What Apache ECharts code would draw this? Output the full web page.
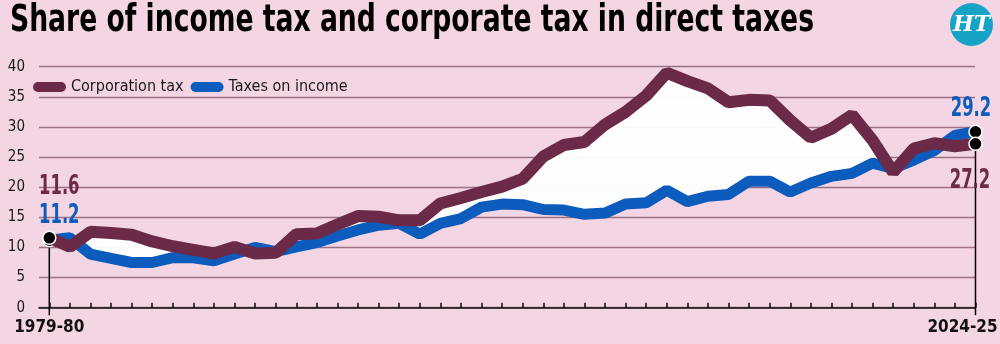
<!DOCTYPE html>
<html>
<head>
<meta charset="utf-8">
<script src="https://cdn.jsdelivr.net/npm/echarts@6/dist/echarts.min.js"></script>
<style>
  html, body { margin: 0; padding: 0; background: #f3d5e3; }
  #chart { width: 1000px; height: 344px; }
</style>
</head>
<body>
<div id="chart"></div>
<script>
// 年份（财年）
const years = [
  '1979-80', '1980-81', '1981-82', '1982-83', '1983-84', '1984-85', '1985-86', '1986-87',
  '1987-88', '1988-89', '1989-90', '1990-91', '1991-92', '1992-93', '1993-94', '1994-95',
  '1995-96', '1996-97', '1997-98', '1998-99', '1999-00', '2000-01', '2001-02', '2002-03',
  '2003-04', '2004-05', '2005-06', '2006-07', '2007-08', '2008-09', '2009-10', '2010-11',
  '2011-12', '2012-13', '2013-14', '2014-15', '2015-16', '2016-17', '2017-18', '2018-19',
  '2019-20', '2020-21', '2021-22', '2022-23', '2023-24', '2024-25'
];

// 公司税占直接税比重 (%)
const corporationTax = [
  11.6, 10.1, 12.6, 12.4, 12.1, 11.0, 10.2, 9.6, 9.0, 10.1, 9.0, 9.1, 12.2, 12.3, 13.8, 15.2,
  15.1, 14.5, 14.5, 17.3, 18.2, 19.2, 20.1, 21.4, 25.1, 27.0, 27.5, 30.4, 32.5, 35.2, 39.0, 37.6,
  36.4, 34.1, 34.5, 34.4, 31.1, 28.2, 29.7, 32.0, 27.8, 22.5, 26.4, 27.3, 26.8, 27.2
];

// 所得税占直接税比重 (%)
const taxesOnIncome = [
  11.2, 11.6, 8.9, 8.2, 7.5, 7.5, 8.3, 8.3, 7.8, 8.9, 10.0, 9.3, 10.1, 10.8, 11.9, 12.9,
  13.7, 14.0, 12.2, 14.0, 14.8, 16.7, 17.2, 17.1, 16.3, 16.2, 15.5, 15.7, 17.2, 17.4, 19.5, 17.6,
  18.5, 18.8, 21.0, 21.0, 19.2, 20.7, 21.8, 22.3, 24.0, 23.1, 24.5, 26.1, 28.6, 29.2
];

const yTicks = { min: 0, max: 40, interval: 5 };
const titleText = 'Share of income tax and corporate tax in direct taxes';

const MAROON = '#6a2a48';
const BLUE = '#0b5cbd';
const FONT = "'DejaVu Sans Condensed', 'DejaVu Sans', sans-serif";
const LAST = years.length - 1;

const myChart = echarts.init(document.getElementById('chart'));

// 两条线之间的白色填充：底部 = 较小值，高度 = 公司税高出的部分
const fillBase = corporationTax.map((c, i) => Math.min(c, taxesOnIncome[i]));
const fillGap = corporationTax.map((c, i) => Math.max(c - taxesOnIncome[i], 0));

// 只在首尾两个点画黑色圆点
function endPoints(values) {
    return values.map((v, i) => {
        if (i !== 0 && i !== LAST) return { value: v, symbol: 'none' };
        return {
            value: v,
            symbol: 'circle',
            symbolSize: 13,
            itemStyle: { color: '#000', borderColor: '#fff', borderWidth: 1.5 }
        };
    });
}

const option = {
    backgroundColor: '#f3d5e3',
    animation: false,
    legend: {
        data: ['Corporation tax', 'Taxes on income'],
        left: 33,
        top: 79,
        padding: 0,
        itemWidth: 33,
        itemHeight: 11,
        itemGap: 7,
        icon: 'path://M5,0 L28,0 A5,5 0 0 1 28,10 L5,10 A5,5 0 0 1 5,0 Z',
        textStyle: { fontFamily: FONT, fontSize: 16, color: '#1a1a1a' }
    },
    grid: [
        { left: 49.3, right: 24.5, top: 66.7, bottom: 36.3, outerBoundsMode: 'none' },
        { left: 39, right: 25, top: 66.7, bottom: 36.3, outerBoundsMode: 'none' }
    ],
    xAxis: [
        {
            type: 'category',
            gridIndex: 0,
            data: years,
            boundaryGap: false,
            axisLine: { show: false },
            axisTick: { show: true, inside: true, length: 5, interval: 0, lineStyle: { color: '#111', width: 1.5 } },
            axisLabel: {
                interval: 0,
                margin: 11,
                fontFamily: FONT,
                fontWeight: 'bold',
                fontSize: 17,
                color: '#111',
                formatter: (val, idx) => {
                    if (idx === 0) return val;
                    if (idx === LAST) return '{r|' + val + '}';
                    return '';
                },
                rich: {
                    r: { fontFamily: FONT, fontWeight: 'bold', fontSize: 17, color: '#111', padding: [0, 26, 0, 0] }
                }
            },
            splitLine: { show: false }
        },
        {
            type: 'value',
            gridIndex: 1,
            min: 0,
            max: 1,
            axisLine: { show: true, lineStyle: { color: '#111', width: 1.5 } },
            axisTick: { show: false },
            axisLabel: { show: false },
            splitLine: { show: false }
        }
    ],
    yAxis: [
        {
            type: 'value',
            gridIndex: 0,
            min: yTicks.min,
            max: yTicks.max,
            interval: yTicks.interval,
            show: false
        },
        {
            type: 'value',
            gridIndex: 1,
            min: yTicks.min,
            max: yTicks.max,
            interval: yTicks.interval,
            axisLine: { show: false },
            axisTick: { show: false },
            axisLabel: { margin: 14, fontFamily: FONT, fontSize: 15, color: '#1a1a1a' },
            splitLine: { lineStyle: { color: '#9a7086', width: 1.3 } }
        }
    ],
    series: [
        {
            name: 'fillBase',
            type: 'line',
            stack: 'fill',
            data: fillBase,
            symbol: 'none',
            lineStyle: { width: 0 },
            silent: true,
            z: 1
        },
        {
            name: 'fillGap',
            type: 'line',
            stack: 'fill',
            data: fillGap,
            symbol: 'none',
            lineStyle: { width: 0 },
            areaStyle: { color: '#ffffff', opacity: 0.96 },
            silent: true,
            z: 1
        },
        {
            name: 'Taxes on income',
            type: 'line',
            data: endPoints(taxesOnIncome),
            clip: false,
            color: BLUE,
            lineStyle: { color: BLUE, width: 11 },
            z: 3
        },
        {
            name: 'Corporation tax',
            type: 'line',
            data: endPoints(corporationTax),
            clip: false,
            color: MAROON,
            lineStyle: { color: MAROON, width: 12 },
            z: 4
        }
    ]
};

myChart.setOption(option);

// 标题：压缩字宽以接近原图的窄体字
const ctx = document.createElement('canvas').getContext('2d');
ctx.font = "bold 37px " + FONT;
const titleScale = 804 / ctx.measureText(titleText).width;

// 根据坐标轴换算首尾点的像素位置
const toPx = (i, v) => myChart.convertToPixel({ gridIndex: 0 }, [i, v]);
const axisY = toPx(0, 0)[1];
const pIncome0 = toPx(0, taxesOnIncome[0]);
const pCorp0 = toPx(0, corporationTax[0]);
const pIncomeN = toPx(LAST, taxesOnIncome[LAST]);
const pCorpN = toPx(LAST, corporationTax[LAST]);

function valueText(p, dx, dy, value, color) {
    return {
        type: 'text',
        x: p[0] + dx,
        y: p[1] + dy,
        scaleX: 0.7,
        style: {
            text: value.toFixed(1),
            fill: color,
            font: "bold 26px " + FONT,
            align: 'center',
            verticalAlign: 'middle'
        },
        z: 20
    };
}

myChart.setOption({
    graphic: [
        {
            type: 'text',
            x: 10,
            y: 3,
            scaleX: titleScale,
            style: { text: titleText, fill: '#000', font: "bold 37px " + FONT, align: 'left', verticalAlign: 'top' }
        },
        {
            type: 'circle',
            shape: { cx: 971.5, cy: 24.5, r: 21.5 },
            style: { fill: '#17a3c6' },
            z: 10
        },
        {
            type: 'text',
            x: 971.5,
            y: 25,
            style: {
                text: 'HT',
                fill: '#fff',
                font: "italic bold 22px 'DejaVu Serif', serif",
                align: 'center',
                verticalAlign: 'middle'
            },
            z: 11
        },
        // 首尾竖线（从圆点向下穿过横轴）
        {
            type: 'line',
            shape: { x1: pIncome0[0], y1: pIncome0[1], x2: pIncome0[0], y2: axisY + 7.5 },
            style: { stroke: '#000', lineWidth: 1.5 },
            z: 1
        },
        {
            type: 'line',
            shape: { x1: pCorpN[0], y1: pCorpN[1], x2: pCorpN[0], y2: axisY + 7.5 },
            style: { stroke: '#000', lineWidth: 1.5 },
            z: 1
        },
        valueText(pCorp0, 10, -51, corporationTax[0], MAROON),
        valueText(pIncome0, 10, -24, taxesOnIncome[0], BLUE),
        valueText(pIncomeN, -4.5, -23, taxesOnIncome[LAST], BLUE),
        valueText(pCorpN, -5.5, 37, corporationTax[LAST], MAROON)
    ]
});
</script>
</body>
</html>
